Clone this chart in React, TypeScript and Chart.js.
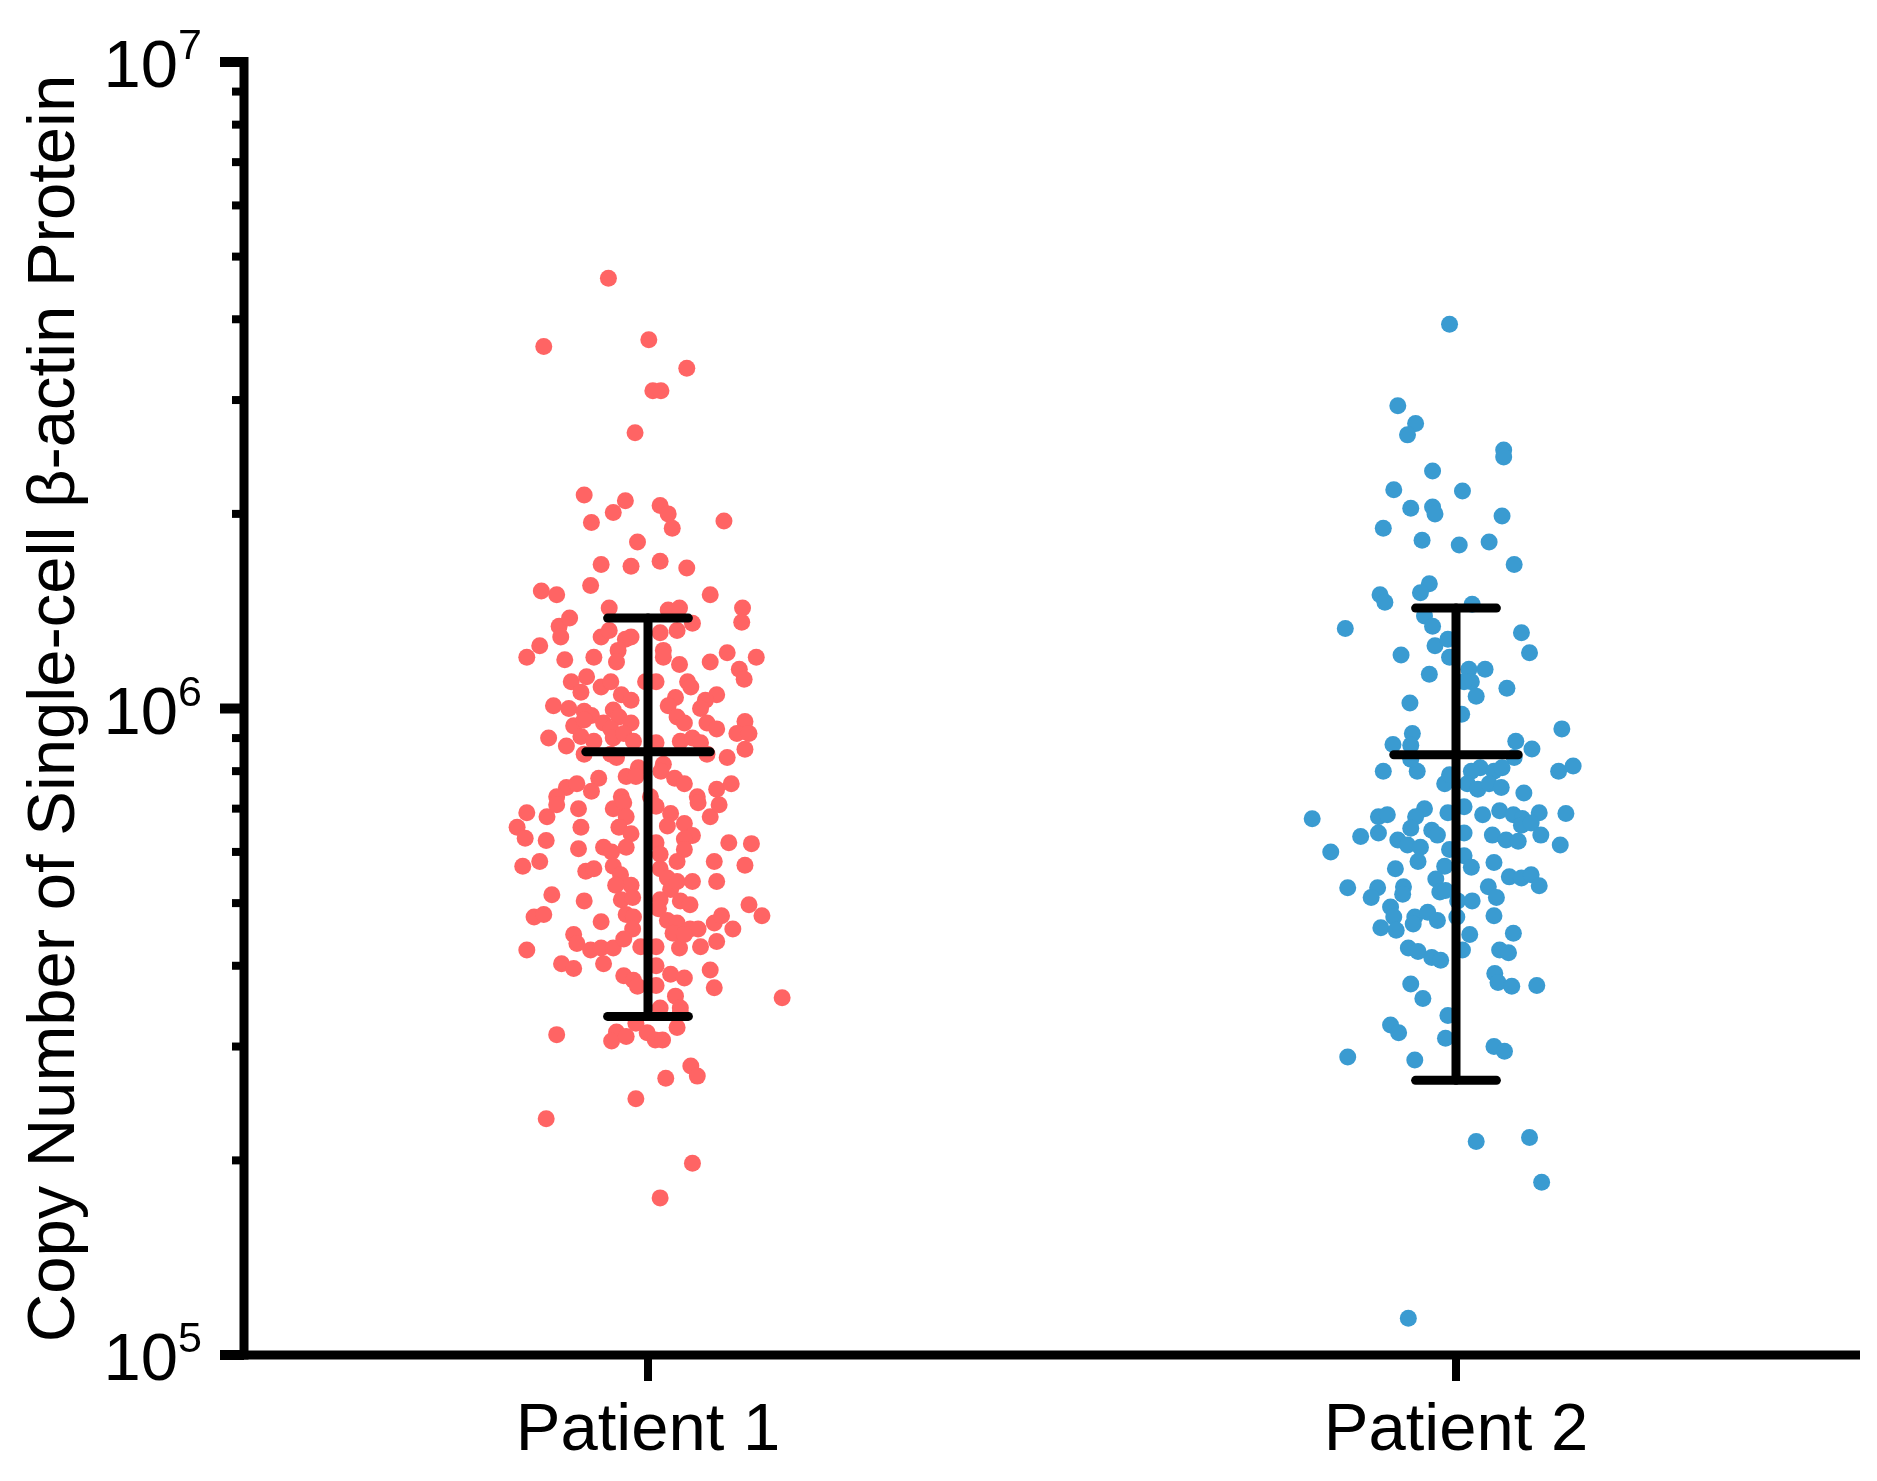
import React, { useEffect, useRef } from "react";
import { Chart, registerables } from "chart.js";

Chart.register(...registerables);

const categories = ["Patient 1", "Patient 2"];
const yTickExponents = [5, 6, 7];
const yMinorDecades = [5, 6];
const yTitle = "Copy Number of Single-cell \u03b2-actin Protein";

// Mean and standard deviation of each group (copies per cell)
const groupMeans = [857000, 848000];
const groupSDs = [523000, 582000];

// Patient 1: horizontal jitter (category units) and copy numbers
const p1Jitter = [
  -0.049, 0.001, -0.129, 0.048, 0.006, 0.016, -0.016, -0.079, -0.028, -0.043,
  -0.070, 0.094, 0.015, 0.025, 0.030, -0.013, -0.058, -0.021, 0.015, 0.048,
  -0.071, -0.132, -0.113, 0.077,
  -0.048, 0.025, 0.039, 0.117, 0.116, -0.110, -0.097, -0.108, -0.134, -0.150,
  -0.058, -0.048, -0.028, -0.021, 0.015, 0.036, 0.055, -0.103, -0.067, -0.037,
  -0.039, 0.019, 0.019, 0.039, 0.077, 0.098, 0.113, 0.134, 0.119, -0.095,
  -0.076, -0.058, -0.046, -0.003, 0.010, 0.049, 0.053, -0.083, -0.033, -0.021,
  0.034, 0.025, 0.085, 0.071, 0.065, -0.117, -0.098, -0.079, -0.070, -0.043,
  -0.036, -0.021, 0.036, 0.045, 0.073, 0.085, -0.092, -0.079, -0.055, -0.046,
  0.120, 0.110, 0.125, -0.123, -0.101, -0.083, -0.067, -0.043, -0.030, -0.018,
  0.010, 0.040, 0.055, 0.065, 0.120, 0.098, 0.073, -0.079, -0.046, -0.039,
  0.019, 0.016, -0.012, -0.027, -0.015, -0.101, -0.088, -0.061, -0.070, 0.033,
  0.045, 0.085, 0.103, 0.061, -0.113, -0.033, 0.003,
  -0.150, -0.125, -0.113, -0.162, -0.152, -0.086, -0.083, -0.126, -0.086, -0.155,
  -0.134, -0.077, -0.067, -0.055, -0.045, -0.043, -0.030, -0.027, -0.036, -0.021,
  -0.027, -0.043, -0.034, -0.021, -0.040, -0.033, -0.019, -0.027, -0.018, -0.019,
  0.010, 0.028, 0.024, 0.045, 0.055, 0.045, 0.010, 0.015, 0.045, 0.036,
  0.015, 0.024, 0.028, 0.036, 0.055, 0.015, 0.013, 0.040, 0.052, 0.024,
  0.036, 0.052, 0.062, 0.062, 0.077, 0.088, 0.100, 0.128, 0.082, 0.120,
  0.085, -0.119, -0.079, -0.141, -0.129, -0.058, -0.092, -0.088, -0.071, -0.058,
  -0.043, -0.030, -0.009, 0.010, 0.039, 0.065, 0.085, 0.031, 0.045, 0.082,
  0.091, 0.105, 0.125, 0.141, -0.150, -0.107, -0.092, -0.055, -0.030, -0.018,
  -0.013, 0.010, 0.010, 0.028, 0.045, 0.077, 0.082, 0.034, 0.015, 0.040, 0.166,
  -0.113, -0.039, -0.045, -0.027, -0.015, -0.001, 0.009, 0.018, 0.036, 0.040,
  0.053, 0.061, 0.022, -0.015, -0.126, 0.055, 0.015,
];
const p1Copies = [
  4.63e6, 3.72e6, 3.63e6, 3.36e6, 3.10e6, 3.10e6, 2.67e6, 2.14e6, 2.095e6, 2.01e6,
  1.94e6, 1.95e6, 2.06e6, 2.00e6, 1.90e6, 1.81e6, 1.67e6, 1.66e6, 1.69e6, 1.65e6,
  1.55e6, 1.52e6, 1.50e6, 1.50e6,
  1.43e6, 1.42e6, 1.43e6, 1.43e6, 1.36e6, 1.34e6, 1.38e6, 1.29e6, 1.25e6, 1.20e6,
  1.29e6, 1.32e6, 1.28e6, 1.29e6, 1.31e6, 1.32e6, 1.355e6, 1.19e6, 1.20e6, 1.23e6,
  1.18e6, 1.23e6, 1.20e6, 1.17e6, 1.18e6, 1.22e6, 1.15e6, 1.20e6, 1.11e6, 1.10e6,
  1.12e6, 1.08e6, 1.10e6, 1.10e6, 1.10e6, 1.10e6, 1.08e6, 1.06e6, 1.05e6, 1.03e6,
  1.04e6, 1.01e6, 1.05e6, 1.03e6, 1.00e6, 1.01e6, 1.00e6, 0.99e6, 0.975e6, 0.995e6,
  0.97e6, 0.95e6, 0.97e6, 0.95e6, 0.95e6, 0.93e6, 0.94e6, 0.96e6, 0.95e6, 0.93e6,
  0.955e6, 0.915e6, 0.915e6, 0.90e6, 0.875e6, 0.905e6, 0.89e6, 0.90e6, 0.915e6, 0.89e6,
  0.885e6, 0.89e6, 0.90e6, 0.885e6, 0.865e6, 0.84e6, 0.85e6, 0.85e6, 0.85e6, 0.84e6,
  0.82e6, 0.80e6, 0.81e6, 0.785e6, 0.785e6, 0.755e6, 0.765e6, 0.78e6, 0.745e6, 0.78e6,
  0.765e6, 0.75e6, 0.765e6, 0.73e6, 0.73e6, 0.73e6, 0.73e6,
  0.69e6, 0.68e6, 0.71e6, 0.655e6, 0.63e6, 0.70e6, 0.655e6, 0.625e6, 0.607e6, 0.57e6,
  0.58e6, 0.56e6, 0.565e6, 0.61e6, 0.60e6, 0.70e6, 0.715e6, 0.68e6, 0.655e6, 0.64e6,
  0.61e6, 0.57e6, 0.553e6, 0.533e6, 0.533e6, 0.506e6, 0.51e6, 0.48e6, 0.476e6, 0.456e6,
  0.706e6, 0.688e6, 0.658e6, 0.664e6, 0.636e6, 0.628e6, 0.62e6, 0.595e6, 0.605e6, 0.58e6,
  0.565e6, 0.547e6, 0.525e6, 0.54e6, 0.54e6, 0.506e6, 0.49e6, 0.504e6, 0.497e6, 0.47e6,
  0.466e6, 0.456e6, 0.456e6, 0.715e6, 0.68e6, 0.71e6, 0.62e6, 0.618e6, 0.58e6, 0.572e6,
  0.54e6, 0.515e6, 0.504e6, 0.476e6, 0.48e6, 0.468e6, 0.447e6, 0.433e6, 0.423e6, 0.426e6,
  0.426e6, 0.44e6, 0.428e6, 0.428e6, 0.426e6, 0.428e6, 0.436e6, 0.449e6, 0.447e6, 0.466e6,
  0.478e6, 0.456e6, 0.497e6, 0.478e6, 0.423e6, 0.403e6, 0.396e6, 0.403e6, 0.386e6, 0.38e6,
  0.372e6, 0.40e6, 0.373e6, 0.388e6, 0.383e6, 0.394e6, 0.37e6, 0.359e6, 0.344e6, 0.344e6, 0.357e6,
  0.313e6, 0.316e6, 0.306e6, 0.311e6, 0.326e6, 0.315e6, 0.307e6, 0.307e6, 0.321e6, 0.338e6,
  0.28e6, 0.27e6, 0.268e6, 0.249e6, 0.232e6, 0.198e6, 0.175e6,
];

// Patient 2: horizontal jitter (category units) and copy numbers
const p2Jitter = [
  -0.008, -0.072, -0.050, -0.060, 0.059, 0.059, -0.029, -0.077, 0.008, -0.056,
  -0.029, -0.026, 0.057, -0.090, -0.042, 0.004, 0.041, 0.072,
  -0.094, -0.088, -0.033, -0.044, 0.020, -0.137, -0.039, -0.029, -0.026, -0.010,
  -0.008, -0.068, 0.081, 0.091, 0.016, 0.036, 0.019, 0.010, 0.025, 0.063,
  -0.033, -0.057, 0.007, 0.131, -0.054, -0.056, -0.078, 0.074, 0.094, 0.072,
  -0.090, -0.048, -0.056, 0.030, 0.019, 0.047, 0.057, -0.014, -0.008, 0.014,
  0.027, 0.041, 0.056, 0.084, 0.127, 0.145, -0.178, -0.096, -0.085, -0.039,
  -0.050, -0.010, 0.010, 0.033, 0.054, 0.071, 0.082, 0.103, 0.136,
  -0.118, -0.096, -0.072, -0.060, -0.056, -0.030, -0.023, -0.044, -0.155, -0.047,
  -0.008, 0.010, 0.010, 0.019, 0.045, 0.062, 0.077, 0.081, 0.093, 0.105,
  0.129, 0.047, -0.075, -0.014, -0.025, -0.134, -0.097, -0.105, -0.065, -0.066,
  -0.020, -0.013, 0.040, 0.050, 0.066, 0.081, 0.093, 0.103, 0.002, 0.020,
  -0.081, -0.077, -0.051, -0.035, -0.023, 0.001, 0.047, -0.093, -0.074, -0.053,
  0.017, 0.071, -0.059, -0.047, -0.030, -0.019, 0.008, 0.054, 0.065, 0.048,
  0.052, 0.069, 0.100, -0.056, -0.041, -0.010, -0.081, -0.071, -0.013, 0.047,
  0.060, -0.134, -0.051,
  0.025, 0.091, 0.106, -0.059,
];
const p2Copies = [
  3.93e6, 2.94e6, 2.76e6, 2.65e6, 2.51e6, 2.45e6, 2.33e6, 2.18e6, 2.17e6, 2.04e6,
  2.05e6, 2.00e6, 1.985e6, 1.90e6, 1.82e6, 1.79e6, 1.81e6, 1.67e6,
  1.50e6, 1.46e6, 1.56e6, 1.51e6, 1.45e6, 1.33e6, 1.39e6, 1.34e6, 1.25e6, 1.28e6,
  1.20e6, 1.21e6, 1.31e6, 1.22e6, 1.15e6, 1.15e6, 1.10e6, 1.10e6, 1.045e6, 1.075e6,
  1.13e6, 1.02e6, 0.98e6, 0.93e6, 0.915e6, 0.877e6, 0.88e6, 0.89e6, 0.866e6, 0.84e6,
  0.80e6, 0.80e6, 0.835e6, 0.81e6, 0.80e6, 0.80e6, 0.81e6, 0.765e6, 0.79e6, 0.765e6,
  0.75e6, 0.765e6, 0.755e6, 0.74e6, 0.80e6, 0.815e6, 0.675e6, 0.68e6, 0.685e6, 0.70e6,
  0.68e6, 0.69e6, 0.705e6, 0.685e6, 0.695e6, 0.685e6, 0.676e6, 0.69e6, 0.688e6,
  0.634e6, 0.642e6, 0.626e6, 0.615e6, 0.653e6, 0.648e6, 0.637e6, 0.61e6, 0.60e6, 0.58e6,
  0.605e6, 0.642e6, 0.592e6, 0.568e6, 0.637e6, 0.626e6, 0.623e6, 0.66e6, 0.665e6, 0.637e6,
  0.615e6, 0.578e6, 0.565e6, 0.57e6, 0.545e6, 0.528e6, 0.528e6, 0.51e6, 0.53e6, 0.516e6,
  0.52e6, 0.523e6, 0.53e6, 0.51e6, 0.549e6, 0.547e6, 0.553e6, 0.532e6, 0.504e6, 0.504e6,
  0.493e6, 0.476e6, 0.476e6, 0.484e6, 0.47e6, 0.476e6, 0.478e6, 0.458e6, 0.454e6, 0.464e6,
  0.447e6, 0.449e6, 0.426e6, 0.421e6, 0.412e6, 0.408e6, 0.423e6, 0.423e6, 0.419e6, 0.389e6,
  0.377e6, 0.372e6, 0.373e6, 0.375e6, 0.356e6, 0.335e6, 0.324e6, 0.315e6, 0.309e6, 0.30e6,
  0.295e6, 0.289e6, 0.286e6,
  0.214e6, 0.217e6, 0.185e6, 0.114e6,
];

const groupJitter = [p1Jitter, p2Jitter];
const groupCopies = [p1Copies, p2Copies];
const groupColors = ["#FF6464", "#3A9BD1"];

const FONT = '"Liberation Sans", Arial, Helvetica, sans-serif';
const CAP_HALF = 0.05;
const MEAN_HALF = 0.077;

const axesPlugin = {
  id: "customAxes",
  afterDraw(chart: any) {
    const { ctx, chartArea, scales } = chart;
    const x = scales.x;
    const y = scales.y;
    const left = chartArea.left;
    const right = chartArea.right;
    const bottom = y.getPixelForValue(Math.pow(10, yTickExponents[0]));
    const top = y.getPixelForValue(Math.pow(10, yTickExponents[yTickExponents.length - 1]));
    ctx.save();
    ctx.strokeStyle = "#000";
    ctx.fillStyle = "#000";
    ctx.lineCap = "butt";

    // y axis line
    ctx.lineWidth = 9;
    ctx.beginPath();
    ctx.moveTo(left, top - 5);
    ctx.lineTo(left, bottom + 4.5);
    ctx.stroke();

    // x axis line
    ctx.beginPath();
    ctx.moveTo(left - 24, bottom);
    ctx.lineTo(right, bottom);
    ctx.stroke();

    // major y ticks
    ctx.lineWidth = 10;
    yTickExponents.forEach((e) => {
      const py = y.getPixelForValue(Math.pow(10, e));
      ctx.beginPath();
      ctx.moveTo(left - 24, py);
      ctx.lineTo(left, py);
      ctx.stroke();
    });

    // minor y ticks
    ctx.lineWidth = 8;
    yMinorDecades.forEach((e) => {
      for (let m = 2; m <= 9; m++) {
        const py = y.getPixelForValue(m * Math.pow(10, e));
        ctx.beginPath();
        ctx.moveTo(left - 12, py);
        ctx.lineTo(left, py);
        ctx.stroke();
      }
    });

    // x ticks + labels
    ctx.font = `67px ${FONT}`;
    ctx.textAlign = "center";
    ctx.textBaseline = "alphabetic";
    categories.forEach((c, i) => {
      const px = x.getPixelForValue(i + 1);
      ctx.lineWidth = 8;
      ctx.beginPath();
      ctx.moveTo(px, bottom);
      ctx.lineTo(px, bottom + 26);
      ctx.stroke();
      ctx.fillText(c, px, bottom + 95);
    });

    // y tick labels 10^n
    yTickExponents.forEach((e) => {
      const py = y.getPixelForValue(Math.pow(10, e));
      ctx.font = `67px ${FONT}`;
      ctx.textAlign = "right";
      ctx.fillText("10", left - 66, py + 25);
      ctx.font = `43px ${FONT}`;
      ctx.textAlign = "left";
      ctx.fillText(String(e), left - 66, py - 3);
    });

    // y title
    ctx.save();
    ctx.translate(74, (top + bottom) / 2);
    ctx.rotate(-Math.PI / 2);
    ctx.font = `67px ${FONT}`;
    ctx.textAlign = "center";
    ctx.fillText(yTitle, 0, 0);
    ctx.restore();

    ctx.restore();
  },
};

export default function App() {
  const ref = useRef<HTMLCanvasElement>(null);

  useEffect(() => {
    if (!ref.current) return;
    const datasets: any[] = [];
    categories.forEach((_, i) => {
      const cx = i + 1;
      const mean = groupMeans[i];
      const lo = mean - groupSDs[i];
      const hi = mean + groupSDs[i];
      const segs = [
        [{ x: cx, y: lo }, { x: cx, y: hi }],
        [{ x: cx - CAP_HALF, y: hi }, { x: cx + CAP_HALF, y: hi }],
        [{ x: cx - CAP_HALF, y: lo }, { x: cx + CAP_HALF, y: lo }],
        [{ x: cx - MEAN_HALF, y: mean }, { x: cx + MEAN_HALF, y: mean }],
      ];
      segs.forEach((seg) => {
        datasets.push({
          type: "line",
          data: seg,
          showLine: true,
          borderColor: "#000",
          borderWidth: 9,
          borderCapStyle: "round",
          pointRadius: 0,
          fill: false,
          order: 0,
          clip: false,
        });
      });
    });
    categories.forEach((c, i) => {
      datasets.push({
        type: "scatter",
        label: c,
        data: groupJitter[i].map((j, k) => ({ x: i + 1 + j, y: groupCopies[i][k] })),
        backgroundColor: groupColors[i],
        borderWidth: 0,
        pointRadius: 8.5,
        pointHoverRadius: 8.5,
        order: 1,
        clip: false,
      });
    });

    const chart = new Chart(ref.current, {
      type: "scatter",
      data: { datasets },
      options: {
        responsive: false,
        animation: false,
        devicePixelRatio: 1,
        layout: { padding: { left: 244, top: 62, right: 17, bottom: 126 } },
        scales: {
          x: { type: "linear", min: 0.5, max: 2.5, display: false },
          y: { type: "logarithmic", min: 1e5, max: 1e7, display: false },
        },
        plugins: {
          legend: { display: false },
          tooltip: { enabled: false },
        },
        events: [],
      } as any,
      plugins: [axesPlugin],
    } as any);
    return () => chart.destroy();
  }, []);

  return (
    <div
      style={{
        position: "absolute",
        left: 0,
        top: 0,
        width: 1877,
        height: 1481,
        background: "#fff",
      }}
    >
      <canvas
        ref={ref}
        width={1877}
        height={1481}
        style={{ width: 1877, height: 1481, display: "block" }}
      />
    </div>
  );
}
